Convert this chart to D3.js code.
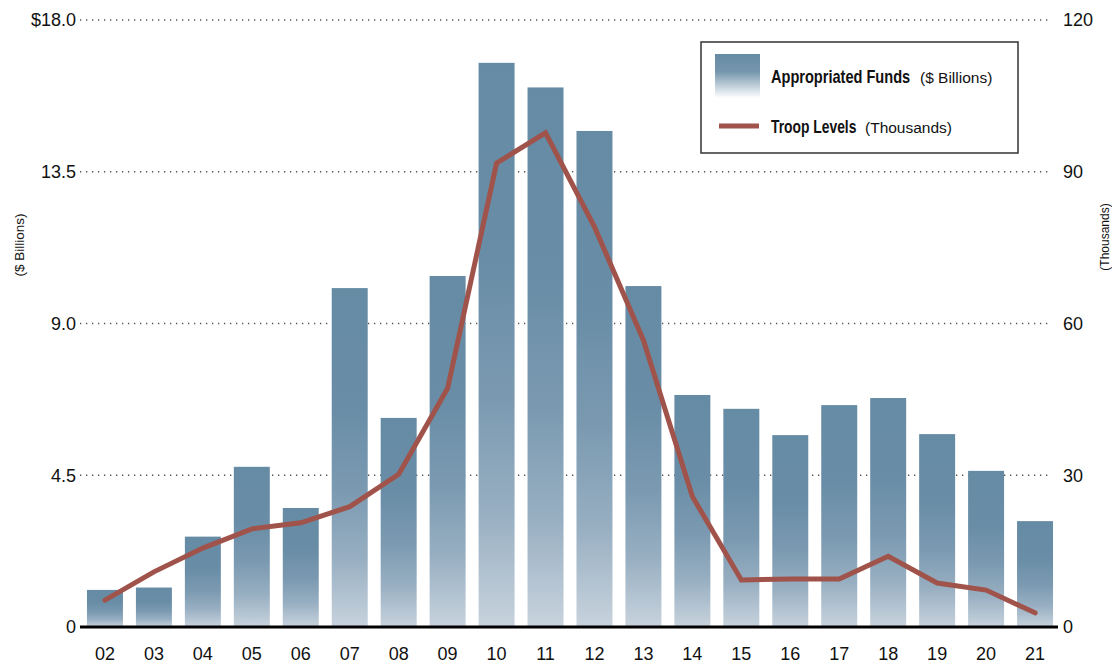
<!DOCTYPE html>
<html>
<head>
<meta charset="utf-8">
<script src="https://cdn.jsdelivr.net/npm/d3@7"></script>
<style>
  body { margin: 0; background: #fff; }
  text { font-family: "Liberation Sans", Arial, sans-serif; fill: #111; }
</style>
</head>
<body>
<div id="viz"></div>
<script>
var width = 1112;
var height = 665;

// data
var years = ["02","03","04","05","06","07","08","09","10","11","12","13","14","15","16","17","18","19","20","21"];
var funds = [1.1, 1.17, 2.68, 4.75, 3.53, 10.05, 6.2, 10.41, 16.73, 16.0, 14.71, 10.11, 6.88, 6.47, 5.69, 6.58, 6.79, 5.72, 4.63, 3.14];
var troops = [5.3, 10.9, 15.6, 19.4, 20.6, 23.8, 30.2, 47.2, 91.7, 97.7, 79.1, 56.7, 25.8, 9.3, 9.5, 9.5, 14.0, 8.7, 7.3, 2.8];
var leftTicks = [0, 4.5, 9, 13.5, 18];
var leftTickLabels = ["0", "4.5", "9.0", "13.5", "$18.0"];
var rightTicks = [0, 30, 60, 90, 120];

var barTop = "#668ba4";
var lineColor = "#a0534a";

var svg = d3.select("#viz")
  .append("svg")
  .attr("width", width)
  .attr("height", height);

var defs = svg.append("defs");
var grad = defs.append("linearGradient")
  .attr("id", "barGrad")
  .attr("x1", 0).attr("y1", 0)
  .attr("x2", 0).attr("y2", 1);
[["0%", barTop], ["35%", "#698da7"], ["60%", "#7b9ab1"], ["80%", "#98afc2"], ["100%", "#c8d3dd"]]
  .forEach(function(s) {
    grad.append("stop").attr("offset", s[0]).attr("stop-color", s[1]);
  });

// scales
var x = d3.scaleBand()
  .domain(years)
  .range([74, 1066])
  .padding(0.265);

var yL = d3.scaleLinear().domain([0, 18]).range([627, 20]);
var yR = d3.scaleLinear().domain([0, 120]).range([627, 20]);

// dotted gridlines
svg.append("g")
  .selectAll("line")
  .data(leftTicks.slice(1))
  .enter()
  .append("line")
  .attr("x1", 80)
  .attr("x2", 1052)
  .attr("y1", function(d) { return yL(d); })
  .attr("y2", function(d) { return yL(d); })
  .attr("stroke", "#555")
  .attr("stroke-width", 1.3)
  .attr("stroke-dasharray", "1.3,4.7");

// bars
svg.append("g")
  .selectAll("rect")
  .data(funds)
  .enter()
  .append("rect")
  .attr("x", function(d, i) { return x(years[i]); })
  .attr("y", function(d) { return yL(d); })
  .attr("width", x.bandwidth())
  .attr("height", function(d) { return yL(0) - yL(d); })
  .attr("fill", "url(#barGrad)");

// baseline
svg.append("line")
  .attr("x1", 80).attr("x2", 1058)
  .attr("y1", yL(0)).attr("y2", yL(0))
  .attr("stroke", "#000")
  .attr("stroke-width", 3);

// troop line
var line = d3.line()
  .x(function(d, i) { return x(years[i]) + x.bandwidth() / 2; })
  .y(function(d) { return yR(d); });

svg.append("path")
  .datum(troops)
  .attr("d", line)
  .attr("fill", "none")
  .attr("stroke", lineColor)
  .attr("stroke-width", 5)
  .attr("stroke-linejoin", "miter")
  .attr("stroke-linecap", "round");

// left axis
var leftAxis = svg.append("g")
  .attr("transform", "translate(76,0)")
  .call(d3.axisLeft(yL).tickValues(leftTicks).tickSize(0).tickPadding(0)
    .tickFormat(function(d, i) { return leftTickLabels[i]; }));
leftAxis.select(".domain").remove();
leftAxis.selectAll("text")
  .style("font-size", "18px")
  .style("font-family", "'Liberation Sans', Arial, sans-serif")
  .attr("fill", "#111");

// right axis
var rightAxis = svg.append("g")
  .attr("transform", "translate(1063,0)")
  .call(d3.axisRight(yR).tickValues(rightTicks).tickSize(0).tickPadding(0));
rightAxis.select(".domain").remove();
rightAxis.selectAll("text")
  .style("font-size", "18px")
  .style("font-family", "'Liberation Sans', Arial, sans-serif")
  .attr("fill", "#111");

// x axis labels
var bottomAxis = svg.append("g")
  .attr("transform", "translate(0," + yL(0) + ")")
  .call(d3.axisBottom(x).tickSize(0).tickPadding(0));
bottomAxis.select(".domain").remove();
bottomAxis.selectAll("text")
  .attr("dy", null)
  .attr("y", 33)
  .style("font-size", "18px")
  .style("font-family", "'Liberation Sans', Arial, sans-serif")
  .attr("fill", "#111");

// axis titles
svg.append("text")
  .attr("transform", "translate(24,245) rotate(-90)")
  .attr("text-anchor", "middle")
  .style("font-size", "13.5px")
  .text("($ Billions)");

svg.append("text")
  .attr("transform", "translate(1109,237) rotate(-90)")
  .attr("text-anchor", "middle")
  .style("font-size", "12px")
  .text("(Thousands)");

// legend
var legend = svg.append("g");
legend.append("rect")
  .attr("x", 701).attr("y", 42)
  .attr("width", 317).attr("height", 111)
  .attr("fill", "#fff")
  .attr("stroke", "#333")
  .attr("stroke-width", 1.5);

var lgGrad = defs.append("linearGradient")
  .attr("id", "lgGrad")
  .attr("x1", 0).attr("y1", 0)
  .attr("x2", 0).attr("y2", 1);
lgGrad.append("stop").attr("offset", "0%").attr("stop-color", barTop);
lgGrad.append("stop").attr("offset", "40%").attr("stop-color", "#7596ad");
lgGrad.append("stop").attr("offset", "100%").attr("stop-color", "#ffffff");

legend.append("rect")
  .attr("x", 715).attr("y", 54)
  .attr("width", 45).attr("height", 44)
  .attr("fill", "url(#lgGrad)");

legend.append("line")
  .attr("x1", 719).attr("x2", 759)
  .attr("y1", 126).attr("y2", 126)
  .attr("stroke", lineColor)
  .attr("stroke-width", 5);

// bold condensed labels: squeeze horizontally
legend.append("text")
  .attr("transform", "translate(771,83) scale(0.81,1)")
  .style("font-weight", "bold")
  .style("font-size", "18px")
  .text("Appropriated Funds");
legend.append("text")
  .attr("x", 920).attr("y", 83)
  .style("font-size", "15.5px")
  .text("($ Billions)");

legend.append("text")
  .attr("transform", "translate(771,133) scale(0.77,1)")
  .style("font-weight", "bold")
  .style("font-size", "18px")
  .text("Troop Levels");
legend.append("text")
  .attr("x", 865).attr("y", 133)
  .style("font-size", "15.5px")
  .text("(Thousands)");
</script>
</body>
</html>
